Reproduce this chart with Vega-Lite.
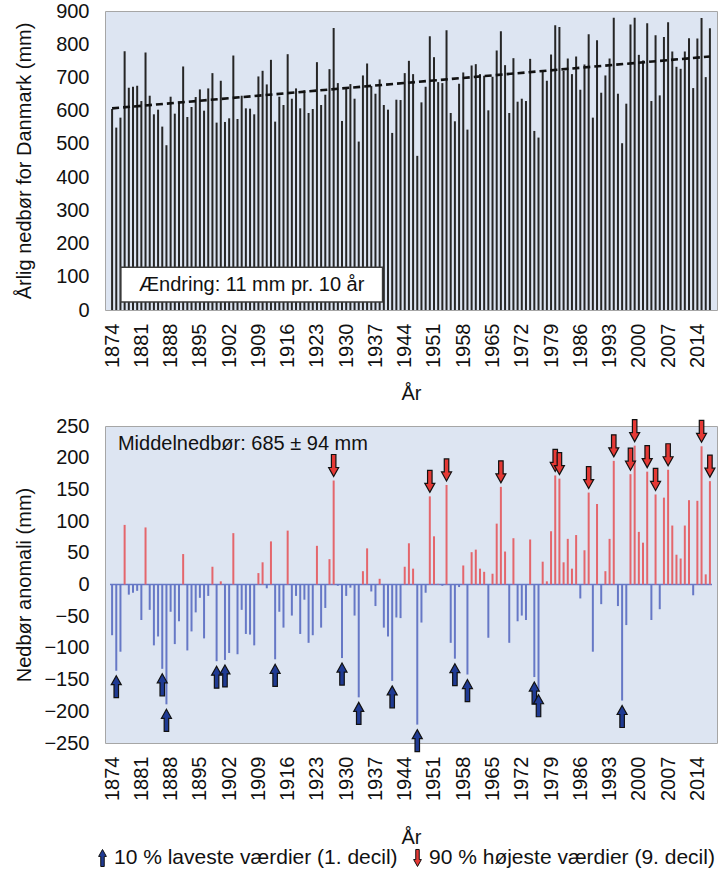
{
  "$schema": "https://vega.github.io/schema/vega-lite/v6.json",
  "background": "white",
  "padding": {"left": 13, "top": 0, "right": 3, "bottom": 5},
  "spacing": 11,
  "data": {"values": [
    {"year":1874,"precip":605,"anomaly":-80,"dec":"-"},
    {"year":1875,"precip":549,"anomaly":-136,"dec":"low"},
    {"year":1876,"precip":579,"anomaly":-106,"dec":"-"},
    {"year":1877,"precip":779,"anomaly":94,"dec":"-"},
    {"year":1878,"precip":669,"anomaly":-16,"dec":"-"},
    {"year":1879,"precip":672,"anomaly":-13,"dec":"-"},
    {"year":1880,"precip":675,"anomaly":-10,"dec":"-"},
    {"year":1881,"precip":629,"anomaly":-56,"dec":"-"},
    {"year":1882,"precip":775,"anomaly":90,"dec":"-"},
    {"year":1883,"precip":645,"anomaly":-40,"dec":"-"},
    {"year":1884,"precip":589,"anomaly":-96,"dec":"-"},
    {"year":1885,"precip":603,"anomaly":-82,"dec":"-"},
    {"year":1886,"precip":552,"anomaly":-133,"dec":"low"},
    {"year":1887,"precip":496,"anomaly":-189,"dec":"low"},
    {"year":1888,"precip":642,"anomaly":-43,"dec":"-"},
    {"year":1889,"precip":591,"anomaly":-94,"dec":"-"},
    {"year":1890,"precip":627,"anomaly":-58,"dec":"-"},
    {"year":1891,"precip":733,"anomaly":48,"dec":"-"},
    {"year":1892,"precip":581,"anomaly":-104,"dec":"-"},
    {"year":1893,"precip":611,"anomaly":-74,"dec":"-"},
    {"year":1894,"precip":641,"anomaly":-44,"dec":"-"},
    {"year":1895,"precip":664,"anomaly":-21,"dec":"-"},
    {"year":1896,"precip":600,"anomaly":-85,"dec":"-"},
    {"year":1897,"precip":667,"anomaly":-18,"dec":"-"},
    {"year":1898,"precip":713,"anomaly":28,"dec":"-"},
    {"year":1899,"precip":564,"anomaly":-121,"dec":"low"},
    {"year":1900,"precip":690,"anomaly":5,"dec":"-"},
    {"year":1901,"precip":566,"anomaly":-119,"dec":"low"},
    {"year":1902,"precip":577,"anomaly":-108,"dec":"-"},
    {"year":1903,"precip":766,"anomaly":81,"dec":"-"},
    {"year":1904,"precip":575,"anomaly":-110,"dec":"-"},
    {"year":1905,"precip":645,"anomaly":-40,"dec":"-"},
    {"year":1906,"precip":607,"anomaly":-78,"dec":"-"},
    {"year":1907,"precip":606,"anomaly":-79,"dec":"-"},
    {"year":1908,"precip":589,"anomaly":-96,"dec":"-"},
    {"year":1909,"precip":703,"anomaly":18,"dec":"-"},
    {"year":1910,"precip":720,"anomaly":35,"dec":"-"},
    {"year":1911,"precip":679,"anomaly":-6,"dec":"-"},
    {"year":1912,"precip":753,"anomaly":68,"dec":"-"},
    {"year":1913,"precip":567,"anomaly":-118,"dec":"low"},
    {"year":1914,"precip":642,"anomaly":-43,"dec":"-"},
    {"year":1915,"precip":617,"anomaly":-68,"dec":"-"},
    {"year":1916,"precip":770,"anomaly":85,"dec":"-"},
    {"year":1917,"precip":636,"anomaly":-49,"dec":"-"},
    {"year":1918,"precip":667,"anomaly":-18,"dec":"-"},
    {"year":1919,"precip":607,"anomaly":-78,"dec":"-"},
    {"year":1920,"precip":661,"anomaly":-24,"dec":"-"},
    {"year":1921,"precip":593,"anomaly":-92,"dec":"-"},
    {"year":1922,"precip":605,"anomaly":-80,"dec":"-"},
    {"year":1923,"precip":746,"anomaly":61,"dec":"-"},
    {"year":1924,"precip":617,"anomaly":-68,"dec":"-"},
    {"year":1925,"precip":648,"anomaly":-37,"dec":"-"},
    {"year":1926,"precip":725,"anomaly":40,"dec":"-"},
    {"year":1927,"precip":849,"anomaly":164,"dec":"high"},
    {"year":1928,"precip":683,"anomaly":-2,"dec":"-"},
    {"year":1929,"precip":569,"anomaly":-116,"dec":"low"},
    {"year":1930,"precip":667,"anomaly":-18,"dec":"-"},
    {"year":1931,"precip":680,"anomaly":-5,"dec":"-"},
    {"year":1932,"precip":636,"anomaly":-49,"dec":"-"},
    {"year":1933,"precip":507,"anomaly":-178,"dec":"low"},
    {"year":1934,"precip":706,"anomaly":21,"dec":"-"},
    {"year":1935,"precip":742,"anomaly":57,"dec":"-"},
    {"year":1936,"precip":674,"anomaly":-11,"dec":"-"},
    {"year":1937,"precip":651,"anomaly":-34,"dec":"-"},
    {"year":1938,"precip":694,"anomaly":9,"dec":"-"},
    {"year":1939,"precip":617,"anomaly":-68,"dec":"-"},
    {"year":1940,"precip":603,"anomaly":-82,"dec":"-"},
    {"year":1941,"precip":533,"anomaly":-152,"dec":"low"},
    {"year":1942,"precip":633,"anomaly":-52,"dec":"-"},
    {"year":1943,"precip":632,"anomaly":-53,"dec":"-"},
    {"year":1944,"precip":713,"anomaly":28,"dec":"-"},
    {"year":1945,"precip":750,"anomaly":65,"dec":"-"},
    {"year":1946,"precip":710,"anomaly":25,"dec":"-"},
    {"year":1947,"precip":464,"anomaly":-221,"dec":"low"},
    {"year":1948,"precip":625,"anomaly":-60,"dec":"-"},
    {"year":1949,"precip":672,"anomaly":-13,"dec":"-"},
    {"year":1950,"precip":824,"anomaly":139,"dec":"high"},
    {"year":1951,"precip":761,"anomaly":76,"dec":"-"},
    {"year":1952,"precip":686,"anomaly":1,"dec":"-"},
    {"year":1953,"precip":683,"anomaly":-2,"dec":"-"},
    {"year":1954,"precip":842,"anomaly":157,"dec":"high"},
    {"year":1955,"precip":593,"anomaly":-92,"dec":"-"},
    {"year":1956,"precip":568,"anomaly":-117,"dec":"low"},
    {"year":1957,"precip":681,"anomaly":-4,"dec":"-"},
    {"year":1958,"precip":715,"anomaly":30,"dec":"-"},
    {"year":1959,"precip":543,"anomaly":-142,"dec":"low"},
    {"year":1960,"precip":736,"anomaly":51,"dec":"-"},
    {"year":1961,"precip":740,"anomaly":55,"dec":"-"},
    {"year":1962,"precip":710,"anomaly":25,"dec":"-"},
    {"year":1963,"precip":705,"anomaly":20,"dec":"-"},
    {"year":1964,"precip":601,"anomaly":-84,"dec":"-"},
    {"year":1965,"precip":702,"anomaly":17,"dec":"-"},
    {"year":1966,"precip":781,"anomaly":96,"dec":"-"},
    {"year":1967,"precip":839,"anomaly":154,"dec":"high"},
    {"year":1968,"precip":737,"anomaly":52,"dec":"-"},
    {"year":1969,"precip":593,"anomaly":-92,"dec":"-"},
    {"year":1970,"precip":758,"anomaly":73,"dec":"-"},
    {"year":1971,"precip":627,"anomaly":-58,"dec":"-"},
    {"year":1972,"precip":636,"anomaly":-49,"dec":"-"},
    {"year":1973,"precip":629,"anomaly":-56,"dec":"-"},
    {"year":1974,"precip":756,"anomaly":71,"dec":"-"},
    {"year":1975,"precip":539,"anomaly":-146,"dec":"low"},
    {"year":1976,"precip":519,"anomaly":-166,"dec":"low"},
    {"year":1977,"precip":721,"anomaly":36,"dec":"-"},
    {"year":1978,"precip":690,"anomaly":5,"dec":"-"},
    {"year":1979,"precip":769,"anomaly":84,"dec":"-"},
    {"year":1980,"precip":857,"anomaly":172,"dec":"high"},
    {"year":1981,"precip":852,"anomaly":167,"dec":"high"},
    {"year":1982,"precip":720,"anomaly":35,"dec":"-"},
    {"year":1983,"precip":757,"anomaly":72,"dec":"-"},
    {"year":1984,"precip":710,"anomaly":25,"dec":"-"},
    {"year":1985,"precip":763,"anomaly":78,"dec":"-"},
    {"year":1986,"precip":663,"anomaly":-22,"dec":"-"},
    {"year":1987,"precip":739,"anomaly":54,"dec":"-"},
    {"year":1988,"precip":830,"anomaly":145,"dec":"high"},
    {"year":1989,"precip":579,"anomaly":-106,"dec":"-"},
    {"year":1990,"precip":812,"anomaly":127,"dec":"-"},
    {"year":1991,"precip":654,"anomaly":-31,"dec":"-"},
    {"year":1992,"precip":706,"anomaly":21,"dec":"-"},
    {"year":1993,"precip":757,"anomaly":72,"dec":"-"},
    {"year":1994,"precip":880,"anomaly":195,"dec":"high"},
    {"year":1995,"precip":651,"anomaly":-34,"dec":"-"},
    {"year":1996,"precip":502,"anomaly":-183,"dec":"low"},
    {"year":1997,"precip":621,"anomaly":-64,"dec":"-"},
    {"year":1998,"precip":859,"anomaly":174,"dec":"high"},
    {"year":1999,"precip":880,"anomaly":219,"dec":"high"},
    {"year":2000,"precip":768,"anomaly":83,"dec":"-"},
    {"year":2001,"precip":751,"anomaly":66,"dec":"-"},
    {"year":2002,"precip":863,"anomaly":178,"dec":"high"},
    {"year":2003,"precip":629,"anomaly":-56,"dec":"-"},
    {"year":2004,"precip":827,"anomaly":142,"dec":"high"},
    {"year":2005,"precip":646,"anomaly":-39,"dec":"-"},
    {"year":2006,"precip":822,"anomaly":137,"dec":"-"},
    {"year":2007,"precip":866,"anomaly":181,"dec":"high"},
    {"year":2008,"precip":778,"anomaly":93,"dec":"-"},
    {"year":2009,"precip":732,"anomaly":47,"dec":"-"},
    {"year":2010,"precip":726,"anomaly":41,"dec":"-"},
    {"year":2011,"precip":778,"anomaly":93,"dec":"-"},
    {"year":2012,"precip":818,"anomaly":133,"dec":"-"},
    {"year":2013,"precip":668,"anomaly":-17,"dec":"-"},
    {"year":2014,"precip":817,"anomaly":132,"dec":"-"},
    {"year":2015,"precip":879,"anomaly":218,"dec":"high"},
    {"year":2016,"precip":701,"anomaly":16,"dec":"-"},
    {"year":2017,"precip":848,"anomaly":163,"dec":"high"}
  ]},
  "vconcat": [
    {
      "width": 612,
      "height": 299,
      "encoding": {
        "x": {"field": "year", "type": "quantitative",
              "scale": {"domain": [1873.5, 2017.5], "nice": false, "zero": false},
              "axis": {"values": [1874,1881,1888,1895,1902,1909,1916,1923,1930,1937,1944,1951,1958,1965,1972,1979,1986,1993,2000,2007,2014],
                       "format": "d", "labelAngle": -90, "title": "År", "labelPadding": 13, "titlePadding": 16,
                       "labelFontSize": 20, "titleFontSize": 20, "labelOverlap": false, "labelFlush": false}},
        "y": {"field": "precip", "type": "quantitative",
              "scale": {"domain": [0, 900], "nice": false},
              "axis": {"values": [0,100,200,300,400,500,600,700,800,900], "title": "Årlig nedbør for Danmark (mm)",
                       "labelPadding": 16, "titleX": -71, "labelFontSize": 20, "titleFontSize": 20, "labelOverlap": false, "labelFlush": false}}
      },
      "layer": [
        {
          "mark": {"type": "bar", "width": 2, "color": "#262626", "clip": true}
        },
        {
          "data": {"values": [{"year": 1874, "precip": 607}, {"year": 2017, "precip": 763}]},
          "mark": {"type": "line", "color": "#111111", "strokeWidth": 2.6, "strokeDash": [7, 4]}
        },
        {
          "data": {"values": [{"year": 1876.1, "precip": 24, "year2": 1938.7, "precip2": 129}]},
          "mark": {"type": "rect", "fill": "white", "stroke": "#3a3a3a", "strokeWidth": 1.5},
          "encoding": {
            "x2": {"field": "year2"},
            "y2": {"field": "precip2"}
          }
        },
        {
          "data": {"values": [{"year": 1907.4, "precip": 76, "label": "Ændring: 11 mm pr. 10 år"}]},
          "mark": {"type": "text", "fontSize": 20, "color": "#111111", "align": "center", "baseline": "middle", "font": "Liberation Sans"},
          "encoding": {
            "text": {"field": "label"}
          }
        }
      ]
    },
    {
      "width": 612,
      "height": 317,
      "encoding": {
        "x": {"field": "year", "type": "quantitative",
              "scale": {"domain": [1873.5, 2017.5], "nice": false, "zero": false},
              "axis": {"values": [1874,1881,1888,1895,1902,1909,1916,1923,1930,1937,1944,1951,1958,1965,1972,1979,1986,1993,2000,2007,2014],
                       "format": "d", "labelAngle": -90, "title": "År", "labelPadding": 13, "titlePadding": 27,
                       "labelFontSize": 20, "titleFontSize": 20, "labelOverlap": false, "labelFlush": false}},
        "y": {"field": "anomaly", "type": "quantitative",
              "scale": {"domain": [-250, 250], "nice": false},
              "axis": {"values": [-250,-200,-150,-100,-50,0,50,100,150,200,250], "title": "Nedbør anomali (mm)",
                       "labelPadding": 16, "titleX": -71, "labelFontSize": 20, "titleFontSize": 20, "labelOverlap": false, "labelFlush": false}}
      },
      "layer": [
        {
          "data": {"values": [{"year": 1873.5, "anomaly": 0}, {"year": 2017.5, "anomaly": 0}]},
          "mark": {"type": "line", "color": "#6678c6", "strokeWidth": 1.5}
        },
        {
          "mark": {"type": "bar", "width": 2},
          "encoding": {
            "color": {"condition": {"test": "datum.anomaly >= 0", "value": "#e4666c"}, "value": "#6678c6"}
          }
        },
        {
          "transform": [{"filter": "datum.dec == 'low'"}],
          "mark": {"type": "point", "filled": true, "opacity": 1, "size": 100, "yOffset": 16, "stroke": "#111111", "strokeWidth": 1.2},
          "encoding": {
            "color": {"field": "dec", "type": "nominal",
                      "scale": {"domain": ["low", "high"], "range": ["#1f3a93", "#e53935"]},
                      "legend": {"title": null, "orient": "none", "legendX": -13, "legendY": 836, "direction": "horizontal", "labelFontSize": 21, "symbolSize": 60,
                                 "columnPadding": 9, "labelLimit": 0, "symbolStrokeColor": "#111111", "symbolStrokeWidth": 1, "labelOffset": 1,
                                 "labelExpr": "datum.value == 'low' ? '10 % laveste værdier (1. decil)' : '90 % højeste værdier (9. decil)'"}},
            "shape": {"field": "dec", "type": "nominal",
                      "scale": {"domain": ["low", "high"], "range": ["M0,-2.2L1,-0.4L0.45,-0.4L0.45,2.2L-0.45,2.2L-0.45,-0.4L-1,-0.4Z", "M0,2.2L1,0.4L0.45,0.4L0.45,-2.2L-0.45,-2.2L-0.45,0.4L-1,0.4Z"]},
                      "legend": {"title": null, "orient": "none", "legendX": -13, "legendY": 836, "direction": "horizontal", "labelFontSize": 21, "symbolSize": 60,
                                 "columnPadding": 9, "labelLimit": 0, "symbolStrokeColor": "#111111", "symbolStrokeWidth": 1, "labelOffset": 1,
                                 "labelExpr": "datum.value == 'low' ? '10 % laveste værdier (1. decil)' : '90 % højeste værdier (9. decil)'"}}
          }
        },
        {
          "transform": [{"filter": "datum.dec == 'high'"}],
          "mark": {"type": "point", "filled": true, "opacity": 1, "size": 100, "yOffset": -15, "stroke": "#111111", "strokeWidth": 1.2},
          "encoding": {
            "color": {"field": "dec", "type": "nominal"},
            "shape": {"field": "dec", "type": "nominal"}
          }
        },
        {
          "data": {"values": [{"year": 1875.4, "anomaly": 222, "label": "Middelnedbør: 685 ± 94 mm"}]},
          "mark": {"type": "text", "fontSize": 20, "color": "#111111", "align": "left", "baseline": "middle", "font": "Liberation Sans"},
          "encoding": {
            "text": {"field": "label"}
          }
        }
      ]
    }
  ],
  "config": {
    "font": "Liberation Sans",
    "view": {"stroke": "#a6a6a6", "fill": "#dde5f2", "strokeWidth": 1},
    "axis": {"labelFontSize": 20, "titleFontSize": 20, "titleFontWeight": "normal", "labelColor": "#111111", "titleColor": "#111111",
             "grid": false, "ticks": false, "domain": false, "labelFont": "Liberation Sans", "titleFont": "Liberation Sans", "labelOverlap": false},
    "legend": {"labelFont": "Liberation Sans", "labelColor": "#111111"}
  }
}
